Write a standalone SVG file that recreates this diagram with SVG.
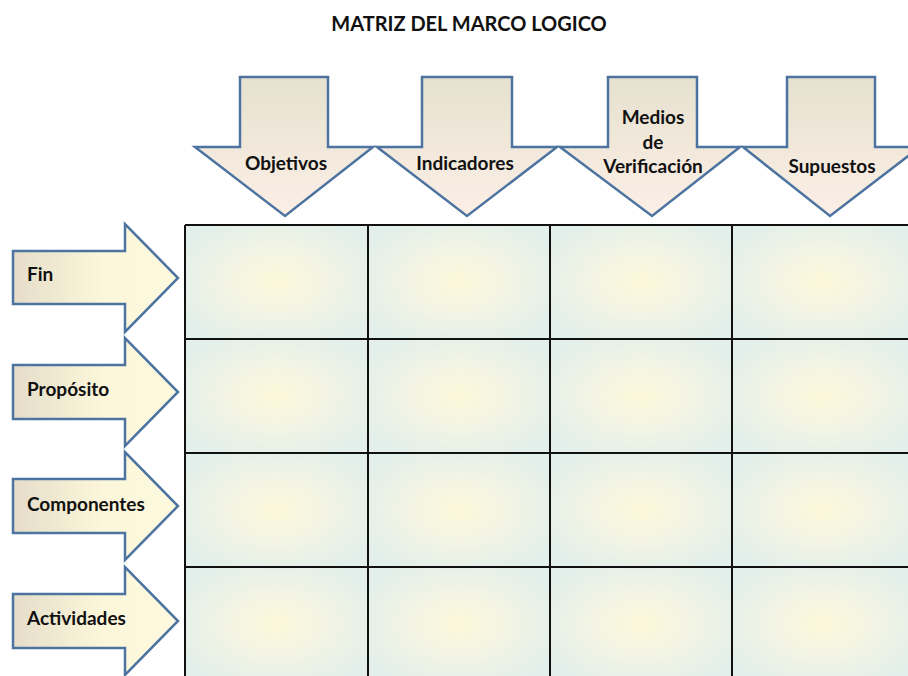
<svg xmlns="http://www.w3.org/2000/svg" width="908" height="676" viewBox="0 0 908 676">
<defs>
<radialGradient id="cellG" cx="0.5" cy="0.5" r="0.6">
<stop offset="0" stop-color="#fdf8da"/>
<stop offset="0.45" stop-color="#f3f4e4"/>
<stop offset="1" stop-color="#e2efea"/>
</radialGradient>
<linearGradient id="downG" x1="0" y1="0" x2="0" y2="1">
<stop offset="0" stop-color="#e6e1cf"/>
<stop offset="1" stop-color="#fcefe6"/>
</linearGradient>
<linearGradient id="rightG" x1="0" y1="0" x2="1" y2="0">
<stop offset="0" stop-color="#e5ddca"/>
<stop offset="0.55" stop-color="#fcf7da"/>
<stop offset="1" stop-color="#fdf9df"/>
</linearGradient>
<style>
.arrD{fill:url(#downG);stroke:#4d74a0;stroke-width:2.5;stroke-linejoin:miter}
.arrR{fill:url(#rightG);stroke:#4d74a0;stroke-width:2.5;stroke-linejoin:miter}
.lbl{font-family:Lato,"Liberation Sans",sans-serif;font-weight:bold;font-size:19px;fill:#111}
.ttl{font-family:Lato,"Liberation Sans",sans-serif;font-weight:bold;font-size:20px;fill:#111}
.cell{fill:url(#cellG)}
.grid{stroke:#111;stroke-width:2;fill:none}
</style>
</defs>
<rect width="908" height="676" fill="#fff"/>
<text class="ttl" x="469" y="31" text-anchor="middle">MATRIZ DEL MARCO LOGICO</text>

<g id="cells">
<rect class="cell" x="185" y="225" width="183" height="114"/>
<rect class="cell" x="368" y="225" width="182" height="114"/>
<rect class="cell" x="550" y="225" width="182" height="114"/>
<rect class="cell" x="732" y="225" width="182" height="114"/>
<rect class="cell" x="185" y="339" width="183" height="114"/>
<rect class="cell" x="368" y="339" width="182" height="114"/>
<rect class="cell" x="550" y="339" width="182" height="114"/>
<rect class="cell" x="732" y="339" width="182" height="114"/>
<rect class="cell" x="185" y="453" width="183" height="114"/>
<rect class="cell" x="368" y="453" width="182" height="114"/>
<rect class="cell" x="550" y="453" width="182" height="114"/>
<rect class="cell" x="732" y="453" width="182" height="114"/>
<rect class="cell" x="185" y="567" width="183" height="114"/>
<rect class="cell" x="368" y="567" width="182" height="114"/>
<rect class="cell" x="550" y="567" width="182" height="114"/>
<rect class="cell" x="732" y="567" width="182" height="114"/>
</g>
<g id="grid" class="grid">
<path d="M185 225H908M185 339H908M185 453H908M185 567H908"/>
<path d="M185 225V676M368 225V676M550 225V676M732 225V676"/>
</g>

<g id="col-objetivos">
<path class="arrD" d="M240 77H328V147H373L285 216L195 147H240Z"/>
<text class="lbl" x="286" y="170" text-anchor="middle">Objetivos</text>
</g>
<g id="col-indicadores">
<path class="arrD" d="M422 77H512V147H557L467 216L377 147H422Z"/>
<text class="lbl" x="465" y="170" text-anchor="middle">Indicadores</text>
</g>
<g id="col-medios">
<path class="arrD" d="M608 77H697V147H740L652 216L560 147H608Z"/>
<text class="lbl" x="653" y="124" text-anchor="middle">Medios</text>
<text class="lbl" x="653" y="149" text-anchor="middle">de</text>
<text class="lbl" x="653" y="173" text-anchor="middle">Verificación</text>
</g>
<g id="col-supuestos">
<path class="arrD" d="M787 77H875V147H920L830 216L743 147H787Z"/>
<text class="lbl" x="832" y="173" text-anchor="middle">Supuestos</text>
</g>

<g id="row-fin">
<path class="arrR" d="M13 251H125V224L178 278L125 332V304H13Z"/>
<text class="lbl" x="27" y="281">Fin</text>
</g>
<g id="row-proposito">
<path class="arrR" d="M13 365H125V338L178 392L125 446V419H13Z"/>
<text class="lbl" x="27" y="396">Propósito</text>
</g>
<g id="row-componentes">
<path class="arrR" d="M13 479H125V452L178 506L125 560V533H13Z"/>
<text class="lbl" x="27" y="511">Componentes</text>
</g>
<g id="row-actividades">
<path class="arrR" d="M13 594H125V567L178 621L125 675V648H13Z"/>
<text class="lbl" x="27" y="625">Actividades</text>
</g>
</svg>
